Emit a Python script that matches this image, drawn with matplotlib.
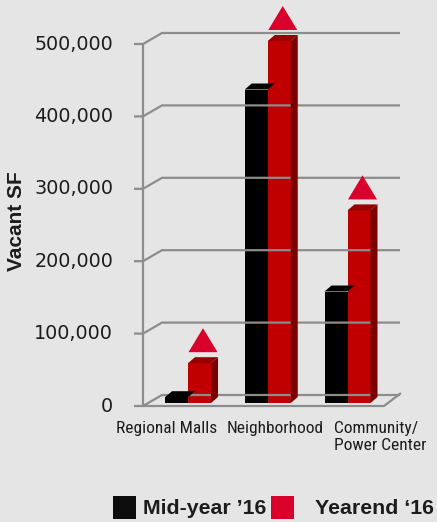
import matplotlib
matplotlib.use("Agg")
import matplotlib.pyplot as plt
from matplotlib import font_manager
from matplotlib.patches import Polygon, Rectangle
from matplotlib.transforms import IdentityTransform
import numpy as np

# ---- data ----
categories = ["Regional Malls", "Neighborhood", "Community/\nPower Center"]
midyear_16 = [8000, 433000, 154000]
yearend_16 = [55000, 500000, 266000]
series_names = ["Mid-year \u201916", "Yearend \u201816"]
y_ticks = [0, 100000, 200000, 300000, 400000, 500000]
y_tick_labels = ["0", "100,000", "200,000", "300,000", "400,000", "500,000"]
y_label = "Vacant SF"

# ---- style ----
W, H, DPI = 437, 522, 100
BG = "#E5E5E5"
GRID = "#8C8C8C"
TXT = "#1C1C1C"
RED_FRONT, RED_TOP, RED_SIDE = "#C00000", "#960000", "#7A0000"
BLACK = "#000000"
MARK_RED = "#D9002B"
DEPTH_X, DEPTH_Y = 7, 6          # bar depth (pixels)
BACK_X, BACK_Y = 19, 11          # back-wall offset (pixels)
FRONT_Y = -3                     # front-wall offset (pixels)

installed = {f.name for f in font_manager.fontManager.ttflist}
narrow = next((f for f in ["Liberation Sans Narrow", "Arial Narrow",
                           "Roboto Condensed", "DejaVu Sans Condensed"]
               if f in installed), "Liberation Sans")
narrow_size = 12.5 if narrow != "Liberation Sans" else 11.0

fig = plt.figure(figsize=(W / DPI, H / DPI), dpi=DPI, facecolor=BG)


def fx(px):
    return px / W


def fy(py):
    return 1 - py / H


# plotting plane of the bars: left 143 px .. right 400 px, value 0 at y=403 px
unit = 79.75
left_px, right_px, zero_px, top_px = 143, 400, 403, 41
ax = fig.add_axes([fx(left_px), fy(zero_px), (right_px - left_px) / W,
                   (zero_px - top_px) / H])
ax.set_axis_off()
ax.set_facecolor("none")
ax.set_xlim(-(188 - left_px) / unit, (right_px - 188) / unit)
ax.set_ylim(0, 500000)

x = np.arange(len(categories))
bw = 23 / unit


def to_px(xd, yd):
    return ax.transData.transform((xd, yd))


def poly(pts, color, z):
    fig.add_artist(Polygon(pts, closed=True, facecolor=color, edgecolor="none",
                           transform=IdentityTransform(), zorder=z))


def line(pts, z=1, lw=1.6):
    pts = np.asarray(pts)
    fig.add_artist(plt.Line2D(pts[:, 0], pts[:, 1], color=GRID, lw=lw,
                              transform=IdentityTransform(), zorder=z,
                              solid_capstyle="butt"))


x0 = ax.get_xlim()[0]
# walls, floor and gridlines
for v, lab in zip(y_ticks, y_tick_labels):
    fxp, fyp = to_px(x0, v)
    fyp += FRONT_Y
    bx, by = fxp + BACK_X, fyp + BACK_Y
    line([(fxp - 9, fyp), (fxp, fyp), (bx, by), (to_px(ax.get_xlim()[1], 0)[0], by)])
    fig.text(fx(113), fyp / H, lab, ha="right", va="center", fontsize=13.8,
             family="DejaVu Sans", color=TXT)
# front axis line
fb = to_px(x0, 0)
ft = to_px(x0, 500000)
line([(fb[0], fb[1] + FRONT_Y), (ft[0], ft[1] + FRONT_Y)])
# front edge and right edge of the floor
floor_right = 384
line([(fb[0], fb[1] + FRONT_Y), (floor_right, fb[1] + FRONT_Y),
      (floor_right + 17, fb[1] + FRONT_Y + 13)])

# bars: flat front faces through matplotlib, then the depth faces
ax.bar(x - bw / 2, midyear_16, bw, color=BLACK, zorder=3, linewidth=0)
ax.bar(x + bw / 2, yearend_16, bw, color=RED_FRONT, zorder=5, linewidth=0)

for xi, vb, vr in zip(x, midyear_16, yearend_16):
    # black bar top
    l = to_px(xi - bw, vb)
    r = to_px(xi, vb)
    poly([l, r, (r[0] + DEPTH_X, r[1] + DEPTH_Y), (l[0] + DEPTH_X, l[1] + DEPTH_Y)],
         BLACK, 3)
    # red bar top and side
    l = to_px(xi, vr)
    r = to_px(xi + bw, vr)
    b = to_px(xi + bw, 0)
    poly([l, r, (r[0] + DEPTH_X, r[1] + DEPTH_Y), (l[0] + DEPTH_X, l[1] + DEPTH_Y)],
         RED_TOP, 6)
    poly([b, r, (r[0] + DEPTH_X, r[1] + DEPTH_Y), (b[0] + DEPTH_X, b[1] + DEPTH_Y)],
         RED_SIDE, 6)
    # up-arrow marker above the yearend bar
    c = to_px(xi + bw / 2, vr)
    cx = c[0] + DEPTH_X / 2
    base = c[1] + 11
    poly([(cx - 14.5, base), (cx + 14.5, base), (cx, base + 24)], MARK_RED, 7)

# category labels
label_pos = [167, 275, 380.5]
for px, lab in zip(label_pos, categories):
    fig.text(fx(px), fy(421), lab, ha="center", va="top", multialignment="left",
             fontsize=narrow_size, family=narrow, color=TXT, linespacing=1.18)

# y-axis title
fig.text(fx(17), fy(221), y_label, rotation=90, ha="center", va="center",
         fontsize=15, fontweight="bold", family="Liberation Sans", color=TXT)

# legend
fig.add_artist(Rectangle((fx(113), fy(519)), 23 / W, 23 / H, facecolor="#0D0D0D",
                         edgecolor="none", transform=fig.transFigure))
fig.add_artist(Rectangle((fx(271), fy(519)), 23 / W, 23 / H, facecolor=MARK_RED,
                         edgecolor="none", transform=fig.transFigure))
fig.text(fx(143), fy(508), series_names[0], ha="left", va="center", fontsize=15.3,
         fontweight="bold", family="Liberation Sans", color=TXT)
fig.text(fx(315), fy(508), series_names[1], ha="left", va="center", fontsize=15.3,
         fontweight="bold", family="Liberation Sans", color=TXT)

fig.savefig("out.png", dpi=DPI, facecolor=BG)
